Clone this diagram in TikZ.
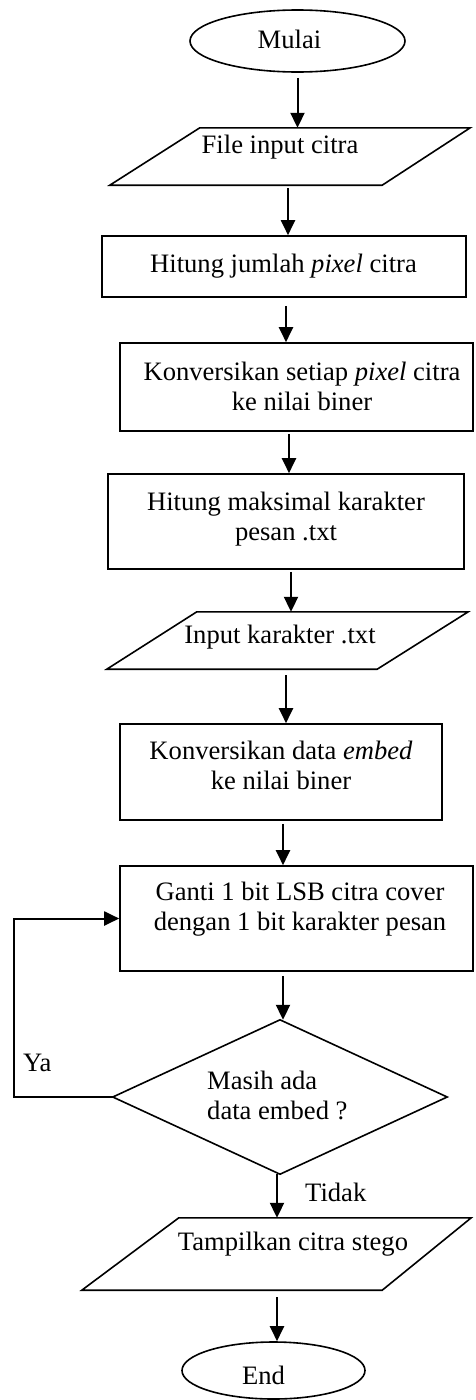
\documentclass[tikz,border=0pt]{standalone}
\usepackage{fontspec}
\setmainfont{Liberation Serif}
\usetikzlibrary{arrows.meta,shapes.geometric}
% two stacked lines whose baseline is the first line
\newcommand\twolines[2]{\begin{tabular}[t]{@{}c@{}}#1\\#2\end{tabular}}
\newcommand\twolinesleft[2]{\begin{tabular}[t]{@{}l@{}}#1\\#2\end{tabular}}
\begin{document}
\begin{tikzpicture}[x=1pt,y=-1pt,
  shapeline/.style={line width=1.6pt},
  procbox/.style={draw, shapeline, rectangle, inner sep=0pt},
  term/.style={draw, shapeline, ellipse, inner sep=0pt},
  frame/.style={rectangle, inner sep=0pt},
  txt/.style={anchor=base, inner sep=0pt, font=\fontsize{26.6}{30}\selectfont},
  arr/.style={line width=2pt, -{Triangle[length=15pt,width=14pt]}},
]
\useasboundingbox[fill=white] (0,0) rectangle (475,1400);

% --- shapes ---
\node[term, minimum width=215pt, minimum height=62pt] (mulai) at (297.5,41) {};

\node[frame, minimum width=360pt, minimum height=57pt] (file) at (290,156.5) {};
\draw[shapeline] ([xshift=90pt]file.north west) -- (file.north east)
  -- ([xshift=-88pt]file.south east) -- (file.south west) -- cycle;

\node[procbox, minimum width=364pt, minimum height=61pt] (hitung) at (284,266.5) {};
\node[procbox, minimum width=353pt, minimum height=88pt] (konv) at (296.5,387) {};
\node[procbox, minimum width=356pt, minimum height=95pt] (maks) at (286,521.5) {};

\node[frame, minimum width=361pt, minimum height=57pt] (input) at (287.5,640.5) {};
\draw[shapeline] ([xshift=90pt]input.north west) -- (input.north east)
  -- ([xshift=-91pt]input.south east) -- (input.south west) -- cycle;

\node[procbox, minimum width=322pt, minimum height=96pt] (data) at (281,772) {};
\node[procbox, minimum width=353pt, minimum height=105pt] (ganti) at (296.5,918.5) {};

\node[frame, minimum width=334pt, minimum height=154pt] (dec) at (280,1097) {};
\draw[shapeline] (dec.north) -- (dec.east) -- (dec.south) -- (dec.west) -- cycle;

\node[frame, minimum width=389pt, minimum height=72pt] (tampil) at (276.5,1254) {};
\draw[shapeline] ([xshift=97pt]tampil.north west) -- (tampil.north east)
  -- ([xshift=-89pt]tampil.south east) -- (tampil.south west) -- cycle;

\node[term, minimum width=183pt, minimum height=57pt] (end) at (273.5,1370.5) {};

% --- texts ---
\node[txt] (tmulai) at (289.5,48) {Mulai};
\node[txt] (tfile) at (280,153) {File input citra};
\node[txt] (thitung) at (283.5,272) {Hitung jumlah \textit{pixel} citra};
\node[txt] (tkonv) at (302,380) {\twolines{Konversikan setiap \textit{pixel} citra}{ke nilai biner}};
\node[txt] (tmaks) at (286,510) {\twolines{Hitung maksimal karakter}{pesan .txt}};
\node[txt] (tinput) at (280,643) {Input karakter .txt};
\node[txt] (tdata) at (281,759) {\twolines{Konversikan data \textit{embed}}{ke nilai biner}};
\node[txt] (tganti) at (300,900) {\twolines{Ganti 1 bit LSB citra cover}{dengan 1 bit karakter pesan}};
\node[txt, anchor=base west] (tdec) at (207,1089) {\twolinesleft{Masih ada}{data embed ?}};
\node[txt] (ttampil) at (293,1250) {Tampilkan citra stego};
\node[txt] (tend) at (263.5,1384) {End};
\node[txt, anchor=base west] (lya) at (23,1071) {Ya};
\node[txt, anchor=base west] (ltidak) at (305,1201) {Tidak};

% --- connectors ---
\draw[arr] ([yshift=-5pt]mulai.south) -- (mulai.south |- file.north);
\draw[arr] ([xshift=-2pt,yshift=-3pt]file.south) -- ([xshift=-2pt]file.south |- hitung.north);
\draw[arr] ([xshift=2pt,yshift=-8pt]hitung.south) -- ([xshift=2pt]hitung.south |- konv.north);
\draw[arr] ([xshift=-7.5pt,yshift=-2pt]konv.south) -- ([xshift=-7.5pt]konv.south |- maks.north);
\draw[arr] ([xshift=5pt,yshift=-2pt]maks.south) -- ([xshift=5pt]maks.south |- input.north);
\draw[arr] ([xshift=-1.5pt,yshift=-6pt]input.south) -- ([xshift=-1.5pt]input.south |- data.north);
\draw[arr] ([xshift=2pt,yshift=-3pt]data.south) -- ([xshift=2pt]data.south |- ganti.north);
\draw[arr] ([xshift=-13.5pt,yshift=-4pt]ganti.south) -- ([xshift=-13.5pt]ganti.south |- dec.north);
\draw[arr] ([xshift=-3pt]dec.south) -- ([xshift=-3pt]dec.south |- tampil.north);
\draw[arr] ([xshift=0.5pt,yshift=-7pt]tampil.south) -- ([xshift=0.5pt]tampil.south |- end.north);
\draw[arr] (dec.west) -- ([xshift=-99pt]dec.west) |- (ganti.west);
\end{tikzpicture}
\end{document}
